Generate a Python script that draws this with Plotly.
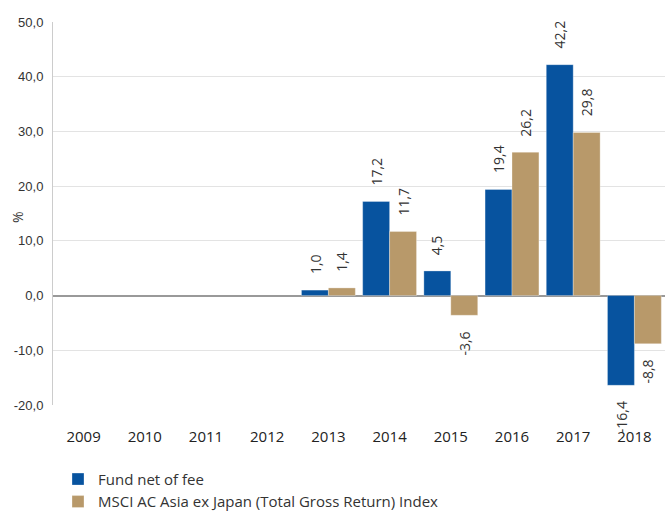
import plotly.graph_objects as go

years = ["2009", "2010", "2011", "2012", "2013", "2014", "2015", "2016", "2017", "2018"]
fund = [None, None, None, None, 1.0, 17.2, 4.5, 19.4, 42.2, -16.4]
msci = [None, None, None, None, 1.4, 11.7, -3.6, 26.2, 29.8, -8.8]
series_names = ["Fund net of fee", "MSCI AC Asia ex Japan (Total Gross Return) Index"]
y_tick_vals = [-20, -10, 0, 10, 20, 30, 40, 50]
y_tick_text = ["-20,0", "-10,0", "0,0", "10,0", "20,0", "30,0", "40,0", "50,0"]
y_title = "%"
colors = ["#07539F", "#B8996A"]

W, H = 665, 511
FONT = "Open Sans"
L, T, B = 53, 22, 106

fig = go.Figure()
for name, vals, col in zip(series_names, [fund, msci], colors):
    fig.add_trace(go.Bar(
        x=years, y=vals, name=name,
        marker=dict(color=col, line=dict(color="rgba(255,255,255,0.6)", width=0.5)),
    ))

# value labels (category index used as x so numeric-looking names are not misread)
band_px = (W - L) / len(years)
bar_px = band_px * (1 - 0.12) / 2
for k, vals in enumerate([fund, msci]):
    shift = (-0.5 + k) * bar_px
    for i, v in enumerate(vals):
        if v is None:
            continue
        txt = f"{v:.1f}".replace(".", ",")
        fig.add_annotation(
            x=i, y=v, xref="x", yref="y", text=txt, showarrow=False,
            textangle=-90, xshift=shift,
            yanchor="bottom" if v >= 0 else "top",
            yshift=14 if v >= 0 else -14,
            font=dict(family=FONT, size=14, color="#333333"),
        )

# y-axis title
plot_w, plot_h = W - L, H - T - B
fig.add_annotation(
    x=-(L - 17) / plot_w, y=(H - B - 217) / plot_h, xref="paper", yref="paper",
    text=y_title, showarrow=False, textangle=-90,
    xanchor="center", yanchor="middle",
    font=dict(family=FONT, size=14, color="#333333"),
)

fig.update_layout(
    width=W, height=H,
    margin=dict(l=L, r=0, t=T, b=B, autoexpand=False),
    paper_bgcolor="white", plot_bgcolor="white",
    barmode="group", bargap=0.12, bargroupgap=0,
    font=dict(family=FONT, color="#333333"),
    showlegend=True,
    legend=dict(
        x=(58 - L) / plot_w, y=-0.151, xanchor="left", yanchor="top",
        orientation="v", font=dict(family=FONT, size=15, color="#333333"),
        bgcolor="rgba(0,0,0,0)", tracegroupgap=0,
    ),
    xaxis=dict(
        type="category", range=[-0.5, len(years) - 0.5], autorange=False,
        categoryorder="array", categoryarray=years,
        showgrid=False, showline=False,
        ticks="outside", ticklen=18, tickcolor="rgba(0,0,0,0)",
        tickfont=dict(family=FONT, size=15, color="#222222"),
    ),
    yaxis=dict(
        range=[-20, 50], autorange=False, tickvals=y_tick_vals, ticktext=y_tick_text,
        showgrid=True, gridcolor="#E3E3E3", gridwidth=1,
        zeroline=True, zerolinecolor="#999999", zerolinewidth=2,
        showline=True, linecolor="#CCCCCC", linewidth=1,
        ticks="outside", ticklen=6, tickcolor="rgba(0,0,0,0)",
        tickfont=dict(family="Liberation Sans", size=13, color="#333333"),
    ),
)

fig.write_html("out.html", config={"displayModeBar": False},
               post_script="document.body.style.margin='0px';")
